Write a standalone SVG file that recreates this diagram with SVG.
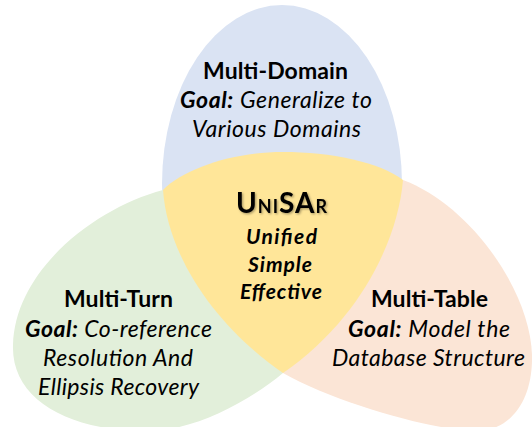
<svg xmlns="http://www.w3.org/2000/svg" width="532" height="427" viewBox="0 0 532 427">
  <defs>
    <style>
      .t{font-family:Lato,"Open Sans","Liberation Sans",sans-serif;font-size:23px;fill:#000}
      .b{font-weight:700}
      .i{font-style:italic}
      .bi{font-weight:700;font-style:italic}
      .c{font-family:Lato,"Open Sans","Liberation Sans",sans-serif;font-size:21px;font-weight:700;font-style:italic;fill:#000}
      .u{font-family:Lato,"Open Sans","Liberation Sans",sans-serif;font-weight:700;fill:#000}
    </style>
    <filter id="sh" x="-10%" y="-30%" width="130%" height="160%">
      <feDropShadow dx="1.2" dy="1.2" stdDeviation="0.9" flood-color="#000" flood-opacity="0.35"/>
    </filter>
  </defs>
  <rect width="532" height="427" fill="#fff"/>

  <g id="node-multi-domain">
    <ellipse cx="282" cy="184" rx="120" ry="179" fill="#DAE3F3"/>
    <text class="t b" x="203" y="79" textLength="145">Multi-Domain</text>
    <text class="t" x="180" y="108" textLength="192"><tspan class="bi">Goal:</tspan><tspan class="i"> Generalize to</tspan></text>
    <text class="t i" x="192" y="137" textLength="169">Various Domains</text>
  </g>

  <g id="node-multi-turn">
    <path d="M163,190 C95,208 15,270 13,345 C11,400 70,432 150,431 C195,430 248,402 283,373 L300,300 L200,200 Z" fill="#E2EFDA"/>
    <text class="t b" x="64" y="307" textLength="109">Multi-Turn</text>
    <text class="t" x="25" y="337" textLength="187"><tspan class="bi">Goal:</tspan><tspan class="i"> Co-reference</tspan></text>
    <text class="t i" x="43" y="366" textLength="150">Resolution And</text>
    <text class="t i" x="38" y="395" textLength="161">Ellipsis Recovery</text>
  </g>

  <g id="node-multi-table">
    <path d="M403,180 C470,205 530,290 532,355 C533,395 515,428 480,431 C440,432 340,405 283,373 L270,300 L380,200 Z" fill="#FBE5D6"/>
    <text class="t b" x="371" y="307" textLength="117">Multi-Table</text>
    <text class="t" x="348" y="337" textLength="162"><tspan class="bi">Goal:</tspan><tspan class="i"> Model the</tspan></text>
    <text class="t i" x="332" y="366" textLength="193">Database Structure</text>
  </g>

  <g id="node-unisar">
    <path d="M163,190 C185,168 235,152 283,152 C330,152 380,162 403,180 C398,240 360,320 283,373 C220,330 168,260 163,190 Z" fill="#FFE699"/>
    <text class="u" x="236" y="213" textLength="91" filter="url(#sh)"><tspan font-size="28">U</tspan><tspan font-size="18">NI</tspan><tspan font-size="28">SA</tspan><tspan font-size="18">R</tspan></text>
    <text class="c" x="246" y="244" textLength="71">Unified</text>
    <text class="c" x="248" y="272" textLength="64">Simple</text>
    <text class="c" x="240" y="299" textLength="82">Effective</text>
  </g>

  <g id="connectors"/>
</svg>
